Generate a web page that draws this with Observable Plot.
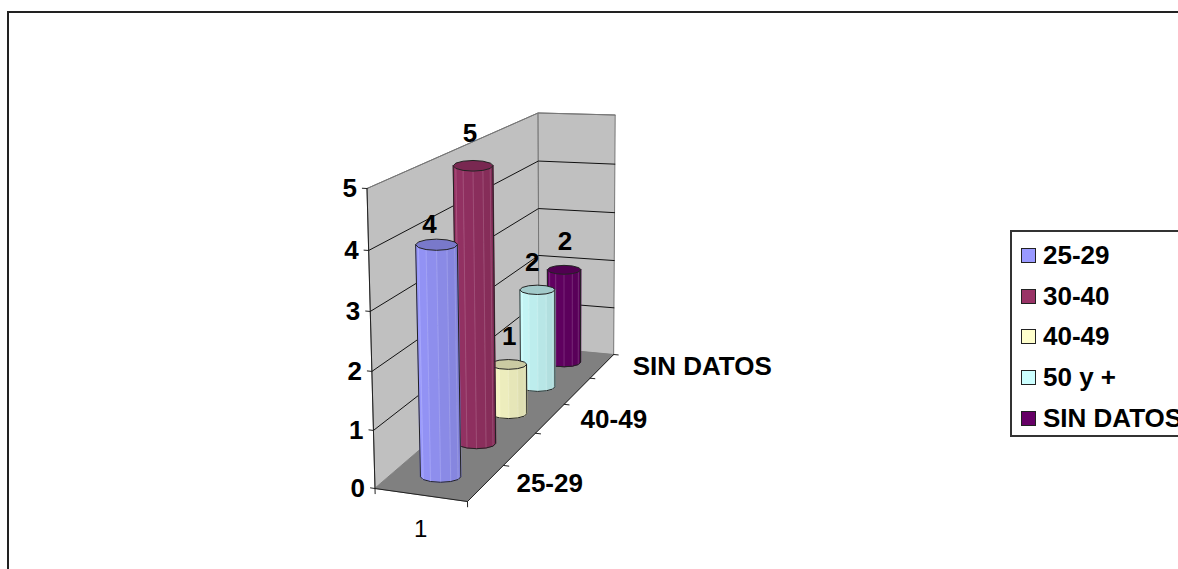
<!DOCTYPE html>
<html lang="es">
<head>
<meta charset="utf-8">
<title>Columnas por grupo de edad</title>
<script src="https://cdn.jsdelivr.net/npm/d3@7"></script>
<script src="https://cdn.jsdelivr.net/npm/@observablehq/plot@0.6"></script>
<style>
  html, body { margin: 0; padding: 0; background: #fff; overflow: hidden; }
  #page { position: relative; width: 1178px; height: 569px; overflow: hidden; font-family: "Liberation Sans", Arial, sans-serif; }
  #frame { position: absolute; left: 7px; top: 11px; width: 1300px; height: 700px; border: solid #222; border-width: 2px 0 0 2px; }
  #plot { position: absolute; left: 0; top: 0; }
  #plot svg { background: transparent; }
  #legend { position: absolute; left: 1010px; top: 230px; width: 300px; height: 207px; box-sizing: border-box; background: #fff; border: 2px solid #333; }
  .row { position: absolute; left: 31px; font-size: 26px; font-weight: 700; color: #000; line-height: 28px; white-space: nowrap; }
  .swatch { position: absolute; left: -22px; top: 7px; width: 13px; height: 13px; border: 1px solid #222; }
</style>
</head>
<body>
<div id="page">
  <div id="frame"></div>
  <div id="plot"></div>
  <div id="legend"></div>
</div>
<script>
const categories = ["1"];
const seriesNames = ["25-29", "30-40", "40-49", "50 y +", "SIN DATOS"];
const seriesValues = [4, 5, 1, 2, 2];
const seriesColors = ["#9999FF", "#993366", "#FFFFCC", "#CCFFFF", "#660066"];
const valueTicks = [0, 1, 2, 3, 4, 5];
const depthLabels = ["25-29", "40-49", "SIN DATOS"];

const width = 1178, height = 569;
const valueMax = d3.max(valueTicks);
const font = "Liberation Sans, Arial, sans-serif";

// Perspective camera for the chart box. Axes run along the category (s),
// the series depth (d) and the value (z); each is 0–1 across the box.
const camera = {
  origin: [374.5, 488],
  sEnd: [467, 501], dEnd: [538.5, 347], zEnd: [366.5, 188],
  sWeight: 0.973, dWeight: 1.292, zWeight: 0.96
};
function project(s, d, value) {
  const z = value / valueMax, c = camera, o = c.origin;
  const w = 1 + s * (c.sWeight - 1) + d * (c.dWeight - 1) + z * (c.zWeight - 1);
  const at = k => o[k]
    + s * (c.sWeight * c.sEnd[k] - o[k])
    + d * (c.dWeight * c.dEnd[k] - o[k])
    + z * (c.zWeight * c.zEnd[k] - o[k]);
  return {x: at(0) / w, y: at(1) / w, w};
}

// Closed, filled polygon through projected points.
const polygon = (points, fill, stroke = fill, strokeWidth = 1) =>
  Plot.line(points, {x: "x", y: "y", curve: "linear-closed", fill, stroke, strokeWidth});
// Open polyline through projected points.
const path = (points, stroke, strokeWidth = 1) =>
  Plot.line(points, {x: "x", y: "y", stroke, strokeWidth});

const marks = [];

// Walls and floor
marks.push(polygon([project(0, 0, 0), project(0, 0, valueMax), project(0, 1, valueMax), project(0, 1, 0)], "#C0C0C0", "#777"));
marks.push(polygon([project(0, 1, 0), project(0, 1, valueMax), project(1, 1, valueMax), project(1, 1, 0)], "#C0C0C0", "#777"));
marks.push(polygon([project(0, 0, 0), project(1, 0, 0), project(1, 1, 0), project(0, 1, 0)], "#808080", "#808080"));

// Gridlines across both walls
for (const v of valueTicks.slice(1)) {
  marks.push(path([project(0, 0, v), project(0, 1, v), project(1, 1, v)], v === valueMax ? "#777" : "#111", 1));
}

// Axis edges and tick marks
marks.push(path([project(0, 0, valueMax), project(0, 0, 0), project(1, 0, 0), project(1, 1, 0)], "#222", 1));
for (const v of valueTicks) marks.push(path([project(-0.05, 0, v), project(0, 0, v)], "#222", 1));
for (const s of [0, 1]) marks.push(path([project(s, 0, 0), project(s, 0, -0.09)], "#222", 1));
seriesNames.forEach((_, i) => {
  const d = (i + 1) / seriesNames.length;
  marks.push(path([project(1, d, 0), project(1.06, d, 0)], "#222", 1));
});

// Columns, painted from the back row to the front row
const columnS = 0.505, radiusX = 20.5, radiusY = 5.5, sides = 6, capDrop = 2.5;
const ring = (center, t, drop = 0) => ({
  x: center.x + radiusX / center.w * Math.cos(t),
  y: center.y + drop + radiusY / center.w * Math.sin(t)
});
const shade = (color, k) => d3.rgb(color).darker(k).formatHex();

d3.range(seriesNames.length).reverse().forEach(i => {
  const d = (i + 0.5) / seriesNames.length;
  const base = project(columnS, d, 0);
  const top = project(columnS, d, seriesValues[i]);
  const color = seriesColors[i];
  // Side facets, lit from the left
  d3.range(sides).forEach(j => {
    const t0 = Math.PI * j / sides, t1 = Math.PI * (j + 1) / sides;
    const facet = [ring(base, t0), ring(base, t1), ring(top, t1, capDrop), ring(top, t0, capDrop)];
    marks.push(polygon(facet, shade(color, 0.5 * (1 - (j + 0.5) / sides))));
    if (j > 0) marks.push(Plot.line([ring(base, t0), ring(top, t0, capDrop)], {
      x: "x", y: "y", stroke: "#fff", strokeOpacity: 0.2, strokeWidth: 0.8
    }));
  });
  // Outline of the body
  marks.push(path([
    ring(top, 0, capDrop),
    ...d3.range(sides + 1).map(j => ring(base, Math.PI * j / sides)),
    ring(top, Math.PI, capDrop)
  ], "#222", 1));
  // Cap
  marks.push(polygon(d3.range(sides * 2).map(j => ring(top, Math.PI * j / sides, capDrop)), shade(color, 0.65), "#222", 1));
});

// Value labels above each column
const labelNudge = [[-7, 20], [-3, 32], [1, 28], [-5, 27], [1, 28]];
const columnLabels = seriesValues.map((v, i) => {
  const top = project(columnS, (i + 0.5) / seriesNames.length, v);
  return {x: top.x + labelNudge[i][0], y: top.y + capDrop - labelNudge[i][1], text: String(v)};
});
const boldText = {fontSize: 26, fontWeight: 700, fontFamily: font, fill: "#000"};
marks.push(Plot.text(columnLabels, {x: "x", y: "y", text: "text", ...boldText}));

// Value axis labels
marks.push(Plot.text(valueTicks.map(v => ({...project(0, 0, v), text: String(v)})), {
  x: "x", y: "y", text: "text", textAnchor: "end", dx: -10, ...boldText
}));

// Depth axis labels
marks.push(Plot.text(depthLabels.map(name => {
  const i = seriesNames.indexOf(name);
  return {...project(1, (i + 0.5) / seriesNames.length, 0), text: name};
}), {x: "x", y: "y", text: "text", textAnchor: "start", dx: 30.5, dy: 1, ...boldText}));

// Category label under the front edge
marks.push(Plot.text(categories.map(c => ({...project(0.5, 0, 0), text: c})), {
  x: "x", y: "y", text: "text", dy: 34, fontSize: 24, fontFamily: font, fill: "#000"
}));

const chart = Plot.plot({
  width, height,
  margin: 0,
  x: {type: "identity", axis: null},
  y: {type: "identity", axis: null},
  style: {background: "transparent"},
  marks
});
document.getElementById("plot").append(chart);

// Legend box at the right of the chart
const legend = document.getElementById("legend");
seriesNames.forEach((name, i) => {
  const row = document.createElement("div");
  row.className = "row";
  row.style.top = (9 + i * 40.7) + "px";
  const swatch = document.createElement("span");
  swatch.className = "swatch";
  swatch.style.background = seriesColors[i];
  row.append(swatch, name);
  legend.append(row);
});
</script>
</body>
</html>
